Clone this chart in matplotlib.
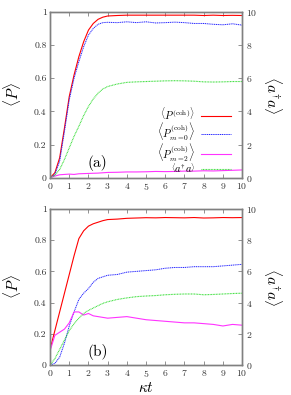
import numpy as np
import matplotlib.pyplot as plt

plt.rcParams['font.family'] = 'serif'
plt.rcParams['font.serif'] = ['cmr10', 'DejaVu Serif']
plt.rcParams['mathtext.fontset'] = 'cm'
plt.rcParams['axes.formatter.use_mathtext'] = True

# panel (a)
t_a = [0, 0.25, 0.5, 0.75, 1.0, 1.25, 1.5, 1.75, 2.0, 2.25, 2.5, 2.75, 3.0, 3.5, 4.0, 4.5,
       5.0, 5.5, 6.0, 6.5, 7.0, 7.5, 8.0, 8.5, 9.0, 9.5, 10.0]
red_a = [0, 0.03, 0.12, 0.3, 0.49, 0.62, 0.73, 0.82, 0.89, 0.93, 0.955, 0.968, 0.975, 0.978, 0.98, 0.98,
         0.98, 0.98, 0.98, 0.98, 0.98, 0.98, 0.978, 0.98, 0.978, 0.979, 0.978]
blue_a = [0, 0.02, 0.1, 0.28, 0.47, 0.6, 0.7, 0.79, 0.86, 0.9, 0.925, 0.935, 0.937, 0.935, 0.94, 0.935,
          0.94, 0.933, 0.935, 0.938, 0.935, 0.93, 0.93, 0.925, 0.922, 0.928, 0.92]
mag_a = [0, 0.01, 0.018, 0.02, 0.022, 0.02, 0.024, 0.025, 0.026, 0.027, 0.028, 0.03, 0.032, 0.033, 0.035, 0.035,
         0.036, 0.038, 0.037, 0.038, 0.04, 0.04, 0.042, 0.041, 0.043, 0.045, 0.047]
nph_a = [0, 0.15, 0.5, 1.1, 1.8, 2.5, 3.1, 3.75, 4.3, 4.75, 5.1, 5.35, 5.5, 5.65, 5.75, 5.78,
         5.8, 5.82, 5.84, 5.85, 5.84, 5.82, 5.78, 5.77, 5.78, 5.8, 5.8]

# panel (b)
t_b = [0, 0.25, 0.5, 0.75, 1.0, 1.25, 1.5, 1.75, 2.0, 2.25, 2.5, 2.75, 3.0, 3.5, 4.0, 4.5,
       5.0, 5.5, 6.0, 6.5, 7.0, 7.5, 8.0, 8.5, 9.0, 9.5, 10.0]
red_b = [0.1, 0.22, 0.34, 0.46, 0.58, 0.7, 0.81, 0.86, 0.89, 0.905, 0.915, 0.925, 0.932, 0.935, 0.94, 0.942,
         0.944, 0.943, 0.945, 0.944, 0.943, 0.945, 0.942, 0.943, 0.945, 0.944, 0.945]
blue_b = [0, 0.01, 0.05, 0.14, 0.25, 0.34, 0.42, 0.46, 0.49, 0.53, 0.555, 0.565, 0.575, 0.58, 0.595, 0.6,
          0.605, 0.61, 0.62, 0.625, 0.625, 0.63, 0.63, 0.63, 0.635, 0.64, 0.645]
mag_b = [0.09, 0.19, 0.21, 0.23, 0.27, 0.34, 0.34, 0.32, 0.33, 0.315, 0.31, 0.305, 0.3, 0.305, 0.31, 0.3,
         0.29, 0.285, 0.28, 0.275, 0.27, 0.27, 0.265, 0.26, 0.25, 0.26, 0.255]
nph_b = [0, 0.4, 1.0, 1.6, 2.2, 2.65, 3.0, 3.3, 3.5, 3.65, 3.8, 3.95, 4.05, 4.2, 4.3, 4.38,
         4.42, 4.45, 4.5, 4.53, 4.55, 4.55, 4.5, 4.52, 4.55, 4.58, 4.6]

labels = [r'$\left\langle P^{(\mathrm{coh})}\right\rangle$',
          r'$\left\langle P^{(\mathrm{coh})}_{m=0}\right\rangle$',
          r'$\left\langle P^{(\mathrm{coh})}_{m=2}\right\rangle$',
          r'$\left\langle a^{\dagger}a\right\rangle$']

gray = '#808080'
fig = plt.figure(figsize=(2.91, 3.95), dpi=100)
ax1 = fig.add_axes([0.172, 0.55, 0.66, 0.42])
ax2 = fig.add_axes([0.172, 0.076, 0.66, 0.395])

def style(ax, ax_r):
    ax.set_xlim(0, 10)
    ax.set_ylim(0, 1)
    ax.set_xticks(range(11))
    ax.set_yticks([0, 0.2, 0.4, 0.6, 0.8, 1])
    ax.set_yticklabels(['0', '0.2', '0.4', '0.6', '0.8', '1'])
    ax_r.set_ylim(0, 10)
    ax_r.set_yticks([0, 2, 4, 6, 8, 10])
    for a in (ax, ax_r):
        for s in a.spines.values():
            s.set_color(gray)
            s.set_linewidth(1.0)
        a.tick_params(direction='in', length=3, width=0.6, color=gray, labelsize=7,
                      labelcolor='#333333', pad=2.5)
    ax.tick_params(top=True)
    ax.set_ylabel(r'$\langle P\rangle$', fontsize=11, labelpad=8)
    ax_r.set_ylabel(r'$\langle a^{\dagger}a\rangle$', fontsize=11, labelpad=4,
                    rotation=-90, va='bottom')

lw = 0.8
green = '#33dd33'
mag = '#ff33ff'
blue_ls = (0, (1.2, 0.7))
green_ls = (0, (0.8, 0.6))
r1 = ax1.twinx()
l1, = ax1.plot(t_a, red_a, color='red', lw=lw)
l2, = ax1.plot(t_a, blue_a, color='#2222ff', lw=0.7, ls=blue_ls)
l3, = ax1.plot(t_a, mag_a, color=mag, lw=lw)
l4, = r1.plot(t_a, nph_a, color=green, lw=lw, ls=green_ls)
style(ax1, r1)
ax1.text(2.47, 0.09, '(a)', fontsize=11, ha='center', va='center')
leg = r1.legend([l1, l2, l3, l4], labels, loc='lower right', markerfirst=False, frameon=False,
                fontsize=7.5, handlelength=2.8, handletextpad=0.6, labelspacing=-0.12,
                borderaxespad=0.0, borderpad=0.0, bbox_to_anchor=(0.94, 0.02))

r2 = ax2.twinx()
ax2.plot(t_b, red_b, color='red', lw=lw)
ax2.plot(t_b, blue_b, color='#2222ff', lw=0.7, ls=blue_ls)
ax2.plot(t_b, mag_b, color=mag, lw=lw)
r2.plot(t_b, nph_b, color=green, lw=lw, ls=green_ls)
style(ax2, r2)
ax2.text(2.47, 0.085, '(b)', fontsize=11, ha='center', va='center')
ax2.set_xlabel(r'$\kappa t$', fontsize=11, labelpad=1)

fig.savefig('out.png', dpi=100)
